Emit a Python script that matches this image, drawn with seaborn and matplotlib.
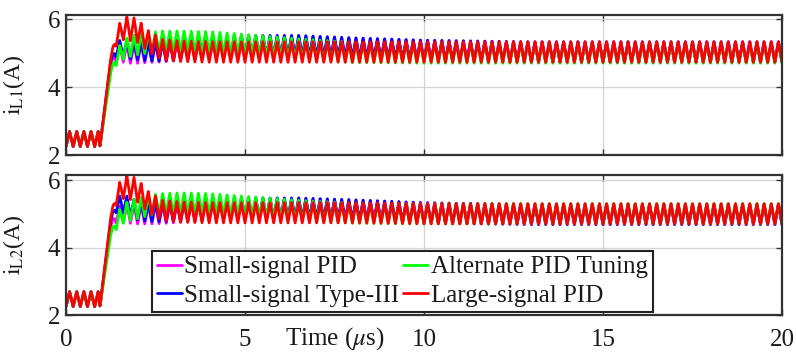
import numpy as np
import pandas as pd
import matplotlib
matplotlib.use("Agg")
import matplotlib.pyplot as plt
import seaborn as sns

# ---- data -------------------------------------------------------------
# Controller names (legend order) and trace colours
controllers = ["Small-signal PID", "Small-signal Type-III",
               "Alternate PID Tuning", "Large-signal PID"]
colors = ["#FF00FF", "#0000FF", "#00FF00", "#FF0000"]

# Switching period of the converter (µs)
t_sw = 0.2

# Breakpoints (µs) of the inductor-current envelope
t_key = [0, 0.9, 0.95, 1.25, 1.4, 1.6, 1.8, 2.0, 2.3, 2.7, 3.2, 4.0,
         5.0, 6.5, 8.0, 10.0, 13.0, 20.0]

# Average inductor current i_L1 (A) at the breakpoints
iL1_pid_small = [2.47, 2.47, 2.27, 4.70, 4.95, 5.00, 4.98, 4.98, 5.00, 5.03,
                 5.08, 5.13, 5.20, 5.20, 5.14, 5.07, 5.03, 5.03]
iL1_type3 = [2.47, 2.47, 2.27, 4.75, 5.10, 5.15, 5.10, 5.08, 5.05, 5.05,
             5.10, 5.15, 5.22, 5.22, 5.15, 5.08, 5.03, 5.03]
iL1_alt = [2.47, 2.47, 2.27, 4.45, 4.85, 5.10, 5.20, 5.25, 5.30, 5.35,
           5.35, 5.33, 5.25, 5.12, 5.02, 5.00, 5.00, 5.00]
iL1_pid_large = [2.47, 2.47, 2.27, 4.85, 5.45, 5.72, 5.72, 5.65, 5.35, 5.10,
                 5.05, 5.03, 5.03, 5.03, 5.03, 5.03, 5.03, 5.03]

# Average inductor current i_L2 (A) at the breakpoints
iL2_pid_small = [2.47, 2.47, 2.27, 4.65, 4.95, 5.00, 5.00, 4.98, 4.98, 5.00,
                 5.05, 5.10, 5.15, 5.15, 5.10, 5.03, 4.98, 4.98]
iL2_type3 = [2.47, 2.47, 2.27, 4.80, 5.25, 5.30, 5.20, 5.10, 5.05, 5.05,
             5.08, 5.12, 5.17, 5.17, 5.12, 5.03, 4.98, 4.98]
iL2_alt = [2.47, 2.47, 2.27, 4.40, 4.75, 5.00, 5.10, 5.15, 5.25, 5.30,
           5.32, 5.30, 5.22, 5.10, 5.02, 5.00, 5.00, 5.00]
iL2_pid_large = [2.47, 2.47, 2.27, 4.90, 5.50, 5.78, 5.78, 5.68, 5.35, 5.10,
                 5.05, 5.03, 5.03, 5.03, 5.03, 5.00, 5.00, 5.00]

# Half peak-to-peak ripple (A) at the breakpoints
ripple_pid_small = [0.22, 0.22, 0, 0, 0.22, 0.27, 0.28, 0.28, 0.28, 0.29,
                    0.30, 0.30, 0.30, 0.30, 0.30, 0.30, 0.30, 0.30]
ripple_type3 = [0.22, 0.22, 0, 0, 0.22, 0.27, 0.28, 0.28, 0.28, 0.29,
                0.30, 0.30, 0.30, 0.30, 0.30, 0.30, 0.30, 0.30]
ripple_alt = [0.22, 0.22, 0, 0, 0.22, 0.28, 0.30, 0.30, 0.30, 0.30,
              0.30, 0.30, 0.30, 0.30, 0.30, 0.30, 0.30, 0.30]
ripple_pid_large = [0.22, 0.22, 0, 0, 0.25, 0.33, 0.36, 0.34, 0.31, 0.30,
                    0.30, 0.30, 0.30, 0.30, 0.30, 0.30, 0.30, 0.30]

x_ticks = [0, 5, 10, 15, 20]
y_ticks = [2, 4, 6]

# ---- build the switched waveforms --------------------------------------
t = np.linspace(0, 20, 8001)
phase = (t / t_sw) % 1.0
carrier = 1 - 4 * np.abs(phase - 0.5)  # triangle between -1 and 1


def waveform(mean_key, ripple_key):
    return np.interp(t, t_key, mean_key) + np.interp(t, t_key, ripple_key) * carrier


ripples = [ripple_pid_small, ripple_type3, ripple_alt, ripple_pid_large]
panels = {
    "L1": [iL1_pid_small, iL1_type3, iL1_alt, iL1_pid_large],
    "L2": [iL2_pid_small, iL2_type3, iL2_alt, iL2_pid_large],
}

frames = []
for panel, means in panels.items():
    for name, m, r in zip(controllers, means, ripples):
        frames.append(pd.DataFrame({"t": t, "i": waveform(m, r),
                                    "controller": name, "panel": panel}))
df = pd.concat(frames, ignore_index=True)

# ---- figure ------------------------------------------------------------
sns.set_theme(style="white")
plt.rcParams["font.family"] = ["Liberation Serif", "DejaVu Serif"]
plt.rcParams["mathtext.fontset"] = "stix"

FS = 18
W, H = 796, 354
fig = plt.figure(figsize=(W / 100, H / 100), dpi=100)
ax1 = fig.add_axes([66 / W, 1 - 155 / H, 716 / W, 140 / H])
ax2 = fig.add_axes([66 / W, 1 - 315 / H, 716 / W, 140 / H])

palette = dict(zip(controllers, colors))
for ax, panel, ylim, lab in [(ax1, "L1", (2, 6.12), r"$\mathrm{i}_{\mathrm{L1}}$(A)"),
                             (ax2, "L2", (2, 6.15), r"$\mathrm{i}_{\mathrm{L2}}$(A)")]:
    sub = df[df["panel"] == panel]
    sns.lineplot(data=sub, x="t", y="i", hue="controller", hue_order=controllers,
                 palette=palette, estimator=None, sort=False, lw=2.0,
                 legend=(panel == "L2"), ax=ax)
    ax.set_xlim(0, 20)
    ax.set_ylim(*ylim)
    ax.set_xticks(x_ticks)
    ax.set_yticks(y_ticks)
    ax.grid(True, color="#d4d4d4", lw=0.9)
    ax.set_axisbelow(True)
    for s in ax.spines.values():
        s.set_color("#333333")
        s.set_linewidth(1.6)
    ax.tick_params(direction="in", length=4, width=1, colors="#333333",
                   labelcolor="#1a1a1a", labelsize=FS, top=True, right=True,
                   bottom=True, left=True, pad=4)
    ax.set_ylabel(lab, fontsize=17, color="#1a1a1a")
    ax.yaxis.set_label_coords(-0.055, 0.5)

ax1.set_xlabel("")
ax1.tick_params(labelbottom=False)
ax2.tick_params(axis="x", pad=10)
ax2.set_xlabel(r"Time ($\mu$s)", fontsize=FS, color="#1a1a1a")
ax2.xaxis.set_label_coords(0.376, -0.165)
ax2.xaxis.label.set_verticalalignment("center")

handles, labels = ax2.get_legend_handles_labels()
leg = ax2.legend(handles, labels, ncol=2, loc="lower left",
                 bbox_to_anchor=(0.12, 0.02), frameon=True, fancybox=False,
                 edgecolor="#222222", framealpha=1, fontsize=FS,
                 handlelength=1.0, handletextpad=0.1, columnspacing=0.15,
                 borderpad=0.2, labelspacing=0.25, borderaxespad=0)
leg.get_frame().set_linewidth(1.5)
for txt in leg.get_texts():
    txt.set_color("#1a1a1a")

fig.savefig("out.png", dpi=100)
